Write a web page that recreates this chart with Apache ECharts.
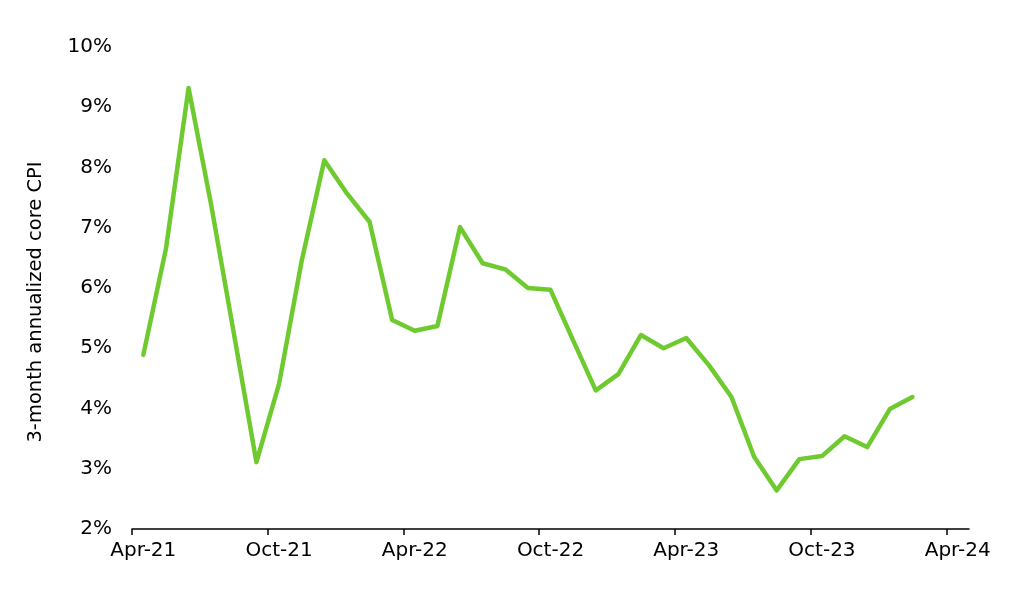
<!DOCTYPE html>
<html>
<head>
<meta charset="UTF-8">
<title>3-month annualized core CPI</title>
<script src="https://cdn.jsdelivr.net/npm/echarts@6/dist/echarts.min.js"></script>
<style>
  html, body { margin: 0; padding: 0; background: #fff; }
  #main { width: 1019px; height: 593px; }
</style>
</head>
<body>
<div id="main"></div>
<script>
// months on the x axis (Apr-21 .. Apr-24)
var months = [
  'Apr-21', 'May-21', 'Jun-21', 'Jul-21', 'Aug-21', 'Sep-21',
  'Oct-21', 'Nov-21', 'Dec-21', 'Jan-22', 'Feb-22', 'Mar-22',
  'Apr-22', 'May-22', 'Jun-22', 'Jul-22', 'Aug-22', 'Sep-22',
  'Oct-22', 'Nov-22', 'Dec-22', 'Jan-23', 'Feb-23', 'Mar-23',
  'Apr-23', 'May-23', 'Jun-23', 'Jul-23', 'Aug-23', 'Sep-23',
  'Oct-23', 'Nov-23', 'Dec-23', 'Jan-24', 'Feb-24', 'Mar-24',
  'Apr-24'
];

// 3-month annualized core CPI, %
var coreCpi = [
  4.89, 6.65, 9.32, 7.38, 5.25, 3.11,
  4.41, 6.45, 8.12, 7.57, 7.10, 5.47,
  5.29, 5.37, 7.01, 6.41, 6.31, 6.00,
  5.97, 5.13, 4.30, 4.57, 5.22, 5.00,
  5.17, 4.72, 4.19, 3.20, 2.64, 3.16,
  3.21, 3.54, 3.36, 3.99, 4.19, null,
  null
];

var yTicks = { min: 2, max: 10, step: 1 };

// plot box
var gridL = 132, gridR = 50, gridT = 47, gridB = 64;
var monthW = (1019 - gridL - gridR) / months.length;

var myChart = echarts.init(document.getElementById('main'));

var option = {
  animation: false,
  grid: [
    { left: gridL, right: gridR, top: gridT, bottom: gridB },
    // tick-only grid, one month shorter so no tick lands on the axis end
    { left: gridL, right: gridR + monthW, top: gridT, bottom: gridB }
  ],
  xAxis: [{
    type: 'category',
    gridIndex: 0,
    data: months,
    boundaryGap: true,
    axisLine: { show: true, lineStyle: { color: '#000', width: 1.5 } },
    axisTick: { show: false },
    axisLabel: {
      interval: 5,
      color: '#000',
      fontFamily: 'DejaVu Sans',
      fontSize: 20,
      margin: 12
    },
    splitLine: { show: false }
  }, {
    type: 'category',
    gridIndex: 1,
    data: months.slice(0, months.length - 1),
    boundaryGap: true,
    axisLine: { show: false },
    axisTick: { show: true, interval: 5, length: 6, lineStyle: { color: '#000', width: 1.5 } },
    axisLabel: { show: false },
    splitLine: { show: false }
  }],
  yAxis: [{
    type: 'value',
    gridIndex: 0,
    min: yTicks.min,
    max: yTicks.max,
    interval: yTicks.step,
    name: '3-month annualized core CPI',
    nameLocation: 'middle',
    nameGap: 86,
    nameTextStyle: { color: '#000', fontFamily: 'DejaVu Sans', fontSize: 19.5, padding: [0, 0, 0, -28] },
    axisLine: { show: false },
    axisTick: { show: false },
    splitLine: { show: false },
    axisLabel: {
      formatter: '{value}%',
      color: '#000',
      fontFamily: 'DejaVu Sans',
      fontSize: 20,
      margin: 20
    }
  }, {
    type: 'value',
    gridIndex: 1,
    min: 0,
    max: 1,
    show: false
  }],
  series: [{
    name: 'Core CPI',
    type: 'line',
    xAxisIndex: 0,
    yAxisIndex: 0,
    data: coreCpi,
    showSymbol: false,
    connectNulls: false,
    lineStyle: { color: '#6fca2f', width: 4.5, join: 'round', cap: 'round' },
    itemStyle: { color: '#6fca2f' }
  }]
};

myChart.setOption(option);
</script>
</body>
</html>
